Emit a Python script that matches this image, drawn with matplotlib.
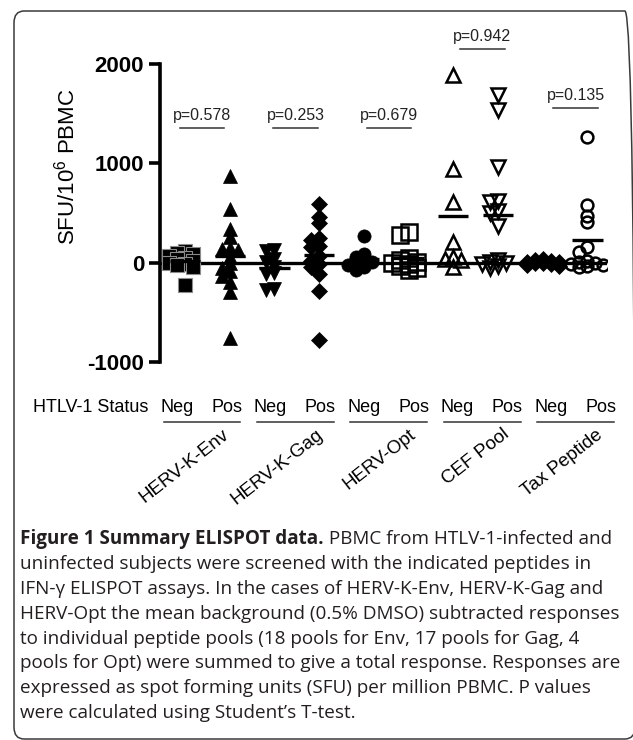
import numpy as np
import matplotlib
matplotlib.use("Agg")
import matplotlib.pyplot as plt
import matplotlib.transforms as mtransforms
from matplotlib.patches import FancyBboxPatch

plt.rcParams['font.family'] = ['Liberation Sans', 'DejaVu Sans']
plt.rcParams['mathtext.fontset'] = 'custom'
plt.rcParams['mathtext.rm'] = 'Liberation Sans'
plt.rcParams['axes.unicode_minus'] = False

# data (SFU per 10^6 PBMC)
env_neg = [120, 100, 90, 70, 50, 40, 20, 0, -10, -20, -40, -220]
env_pos = [870, 540, 340, 260, 150, 140, 130, 60, 0, -50, -80, -130, -190, -300, -760]
gag_neg = [130, 120, 40, 10, -40, -110, -100, -280, -270]
gag_pos = [590, 460, 400, 250, 230, 170, 160, 70, 20, -10, -40, -110, -290, -780]
opt_neg = [270, 90, 60, 30, 10, 0, -20, -40, -70]
opt_pos = [310, 280, 50, 30, 10, 0, -10, -30, -50, -70]
cef_neg = [1890, 940, 610, 210, 60, 40, 30, -40]
cef_pos = [1690, 1540, 960, 620, 610, 520, 500, 370, 30, 10, 0, -10, -30, -50]
tax_neg = [40, 20, 10, 0, 0, -10, -20, -30, 30, 10]
tax_pos = [1270, 580, 470, 410, 160, 110, 20, 10, 0, -10, -20, -30, -40]

series = [env_neg, env_pos, gag_neg, gag_pos, opt_neg, opt_pos,
          cef_neg, cef_pos, tax_neg, tax_pos]
status = ["Neg", "Pos"]
groups = ["HERV-K-Env", "HERV-K-Gag", "HERV-Opt", "CEF Pool", "Tax Peptide"]
pvals = ["p=0.578", "p=0.253", "p=0.679", "p=0.942", "p=0.135"]
p_line_y = [1360, 1360, 1360, 2150, 1560]

# marker styles per series
styles = [
    dict(marker='s', ms=10, mfc='k', mec='#8c8c8c', mew=0.8),
    dict(marker='^', ms=9.5, mfc='k', mec='k', mew=0.5),
    dict(marker='v', ms=9.5, mfc='k', mec='k', mew=0.5),
    dict(marker='D', ms=8, mfc='k', mec='k', mew=0.5),
    dict(marker='o', ms=9.5, mfc='k', mec='k', mew=0.5),
    dict(marker='s', ms=11, mfc='none', mec='k', mew=1.8),
    dict(marker='^', ms=9.5, mfc='none', mec='k', mew=1.8),
    dict(marker='v', ms=9.5, mfc='none', mec='k', mew=1.8),
    dict(marker='D', ms=8, mfc='k', mec='k', mew=0.5),
    dict(marker='o', ms=8.5, mfc='none', mec='k', mew=1.8),
]


def swarm(vals, step=0.18, ygap=65, kmax=2):
    # simple beeswarm: spread points sideways when they collide
    vals = np.asarray(vals, float)
    offs = np.zeros(len(vals))
    placed = []
    cands = [0]
    for k in range(1, kmax + 1):
        cands += [-k, k]
    for i in np.argsort(-vals):
        best, best_d = 0, -1
        for c in cands:
            dx = c * step
            d = min([max(abs(dx - px) / step, abs(vals[i] - py) / ygap)
                     for px, py in placed] + [9])
            if d >= 0.9:
                best = dx
                break
            if d > best_d:
                best, best_d = dx, d
        offs[i] = best
        placed.append((best, vals[i]))
    return offs


W, H = 633, 740
fig = plt.figure(figsize=(W / 100, H / 100), dpi=100)

# rounded frame around figure + caption (right edge runs off the image)
frame = FancyBboxPatch((14 / W, 1 - 739 / H), (635 - 14) / W, (739 - 11) / H,
                       boxstyle="round,pad=0,rounding_size=0.016",
                       transform=fig.transFigure, fill=False,
                       ec='#3a3a3a', lw=1.1)
fig.patches.append(frame)

ax = fig.add_axes([160 / W, 1 - 362 / H, (607 - 160) / W, (362 - 64) / H])
ax.set_ylim(-1000, 2000)
ax.set_xlim(-0.56, 9.44)

ax.axhline(0, color='k', lw=2.4, zorder=1)

xpos = np.arange(len(series))
for x, vals, st in zip(xpos, series, styles):
    offs = swarm(vals)
    ax.plot(x + offs, vals, ls='none', zorder=3, **st)
    ax.hlines(np.mean(vals), x - 0.34, x + 0.34, color='k', lw=2.4, zorder=4)

# label layout along x (data units): group label centres
lab_mid = 0.38 + 2.09 * np.arange(5)
lab_half = 0.56

# p values
for g in range(5):
    x0, x1 = lab_mid[g] - 0.5, lab_mid[g] + 0.5
    ax.plot([x0, x1], [p_line_y[g]] * 2, color='#333333', lw=1.1,
            clip_on=False)
    ax.text(lab_mid[g], p_line_y[g] + 50, pvals[g], ha='center',
            va='bottom', fontsize=11.5, color='#222222', clip_on=False)

for s in ['top', 'right', 'bottom']:
    ax.spines[s].set_visible(False)
ax.spines['left'].set_linewidth(2.6)
ax.set_xticks([])
ax.set_yticks([-1000, 0, 1000, 2000])
ax.tick_params(axis='y', direction='out', length=8, width=2.6)
for lab in ax.get_yticklabels():
    lab.set_fontweight('bold')
    lab.set_fontsize(16)

fig.text(67 / W, 1 - 167 / H, 'SFU/10$^6$ PBMC', rotation=90, ha='center',
         va='center', fontsize=16)

# category labels under the axis
trans = mtransforms.blended_transform_factory(ax.transData, fig.transFigure)
fig.text(33 / W, 1 - 408 / H, 'HTLV-1 Status', ha='left', va='center',
         fontsize=13)
for g in range(5):
    for k, lab in enumerate(status):
        ax.text(lab_mid[g] + (2 * k - 1) * lab_half, 1 - 408 / H, lab,
                transform=trans, ha='center', va='center', fontsize=13)
    ax.plot([lab_mid[g] - 0.86, lab_mid[g] + 0.86], [1 - 422 / H] * 2,
            transform=trans, color='#333333', lw=1.1, clip_on=False)
    ax.text(lab_mid[g] + 0.45, 1 - 426 / H, groups[g], transform=trans,
            ha='right', va='top', rotation=38, rotation_mode='anchor',
            fontsize=13.5)

# caption
cap_bold = "Figure 1 Summary ELISPOT data."
cap_lines = [
    " PBMC from HTLV-1-infected and",
    "uninfected subjects were screened with the indicated peptides in",
    "IFN-\u03b3 ELISPOT assays. In the cases of HERV-K-Env, HERV-K-Gag and",
    "HERV-Opt the mean background (0.5% DMSO) subtracted responses",
    "to individual peptide pools (18 pools for Env, 17 pools for Gag, 4",
    "pools for Opt) were summed to give a total response. Responses are",
    "expressed as spot forming units (SFU) per million PBMC. P values",
    "were calculated using Student\u2019s T-test.",
]
cap_font = ['Open Sans', 'DejaVu Sans']
cap_size = 13.6
cap_color = '#231f20'
base0 = 544
lead = 24.9
tb = fig.text(20 / W, 1 - base0 / H, cap_bold, ha='left', va='baseline',
              fontsize=cap_size, fontweight='bold', family=cap_font,
              color=cap_color)
r = fig.canvas.get_renderer()
bb = tb.get_window_extent(renderer=r)
fig.text(bb.x1 / W, 1 - base0 / H, cap_lines[0], ha='left', va='baseline',
         fontsize=cap_size, family=cap_font, color=cap_color)
for i, line in enumerate(cap_lines[1:], start=1):
    fig.text(20 / W, 1 - (base0 + i * lead) / H, line, ha='left',
             va='baseline', fontsize=cap_size, family=cap_font,
             color=cap_color)

fig.savefig('out.png', dpi=100)
